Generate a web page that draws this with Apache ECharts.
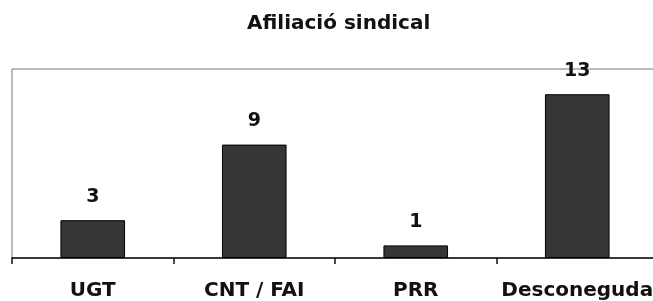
<!DOCTYPE html>
<html>
<head>
<meta charset="utf-8">
<script src="https://cdn.jsdelivr.net/npm/echarts@6/dist/echarts.min.js"></script>
<style>
  html, body { margin: 0; padding: 0; background: #fff; }
  #main { width: 653px; height: 301px; }
</style>
</head>
<body>
<div id="main"></div>
<script>
// dades
var categories = ['UGT', 'CNT / FAI', 'PRR', 'Desconeguda'];
var members = [3, 9, 1, 13];
var titleText = 'Afiliació sindical';

var font = '"DejaVu Sans", Verdana, sans-serif';
var myChart = echarts.init(document.getElementById('main'));
myChart.setOption({
  backgroundColor: '#fff',
  animation: false,
  title: {
    text: titleText,
    left: 242,
    top: 9,
    textStyle: { fontFamily: font, fontSize: 20, fontWeight: 'bold', color: '#111' }
  },
  grid: {
    left: 12,
    top: 69,
    width: 646,
    bottom: 43,
    outerBoundsMode: 'none',
    show: true,
    borderColor: '#777',
    borderWidth: 1
  },
  xAxis: {
    type: 'category',
    data: categories,
    axisLine: { lineStyle: { color: '#111', width: 1.5 } },
    axisTick: { show: true, interval: 0, length: 6, lineStyle: { color: '#111', width: 1.5 } },
    axisLabel: {
      interval: 0,
      hideOverlap: false,
      margin: 23,
      fontFamily: font,
      fontSize: 20,
      fontWeight: 'bold',
      color: '#111'
    }
  },
  yAxis: {
    type: 'value',
    min: 0,
    max: 15,
    show: false
  },
  series: [{
    type: 'bar',
    data: members,
    barWidth: '40%',
    itemStyle: { color: '#363636', borderColor: '#000', borderWidth: 1 },
    label: {
      show: true,
      position: 'top',
      distance: 14,
      fontFamily: font,
      fontSize: 19,
      fontWeight: 'bold',
      color: '#111'
    }
  }]
});
</script>
</body>
</html>
